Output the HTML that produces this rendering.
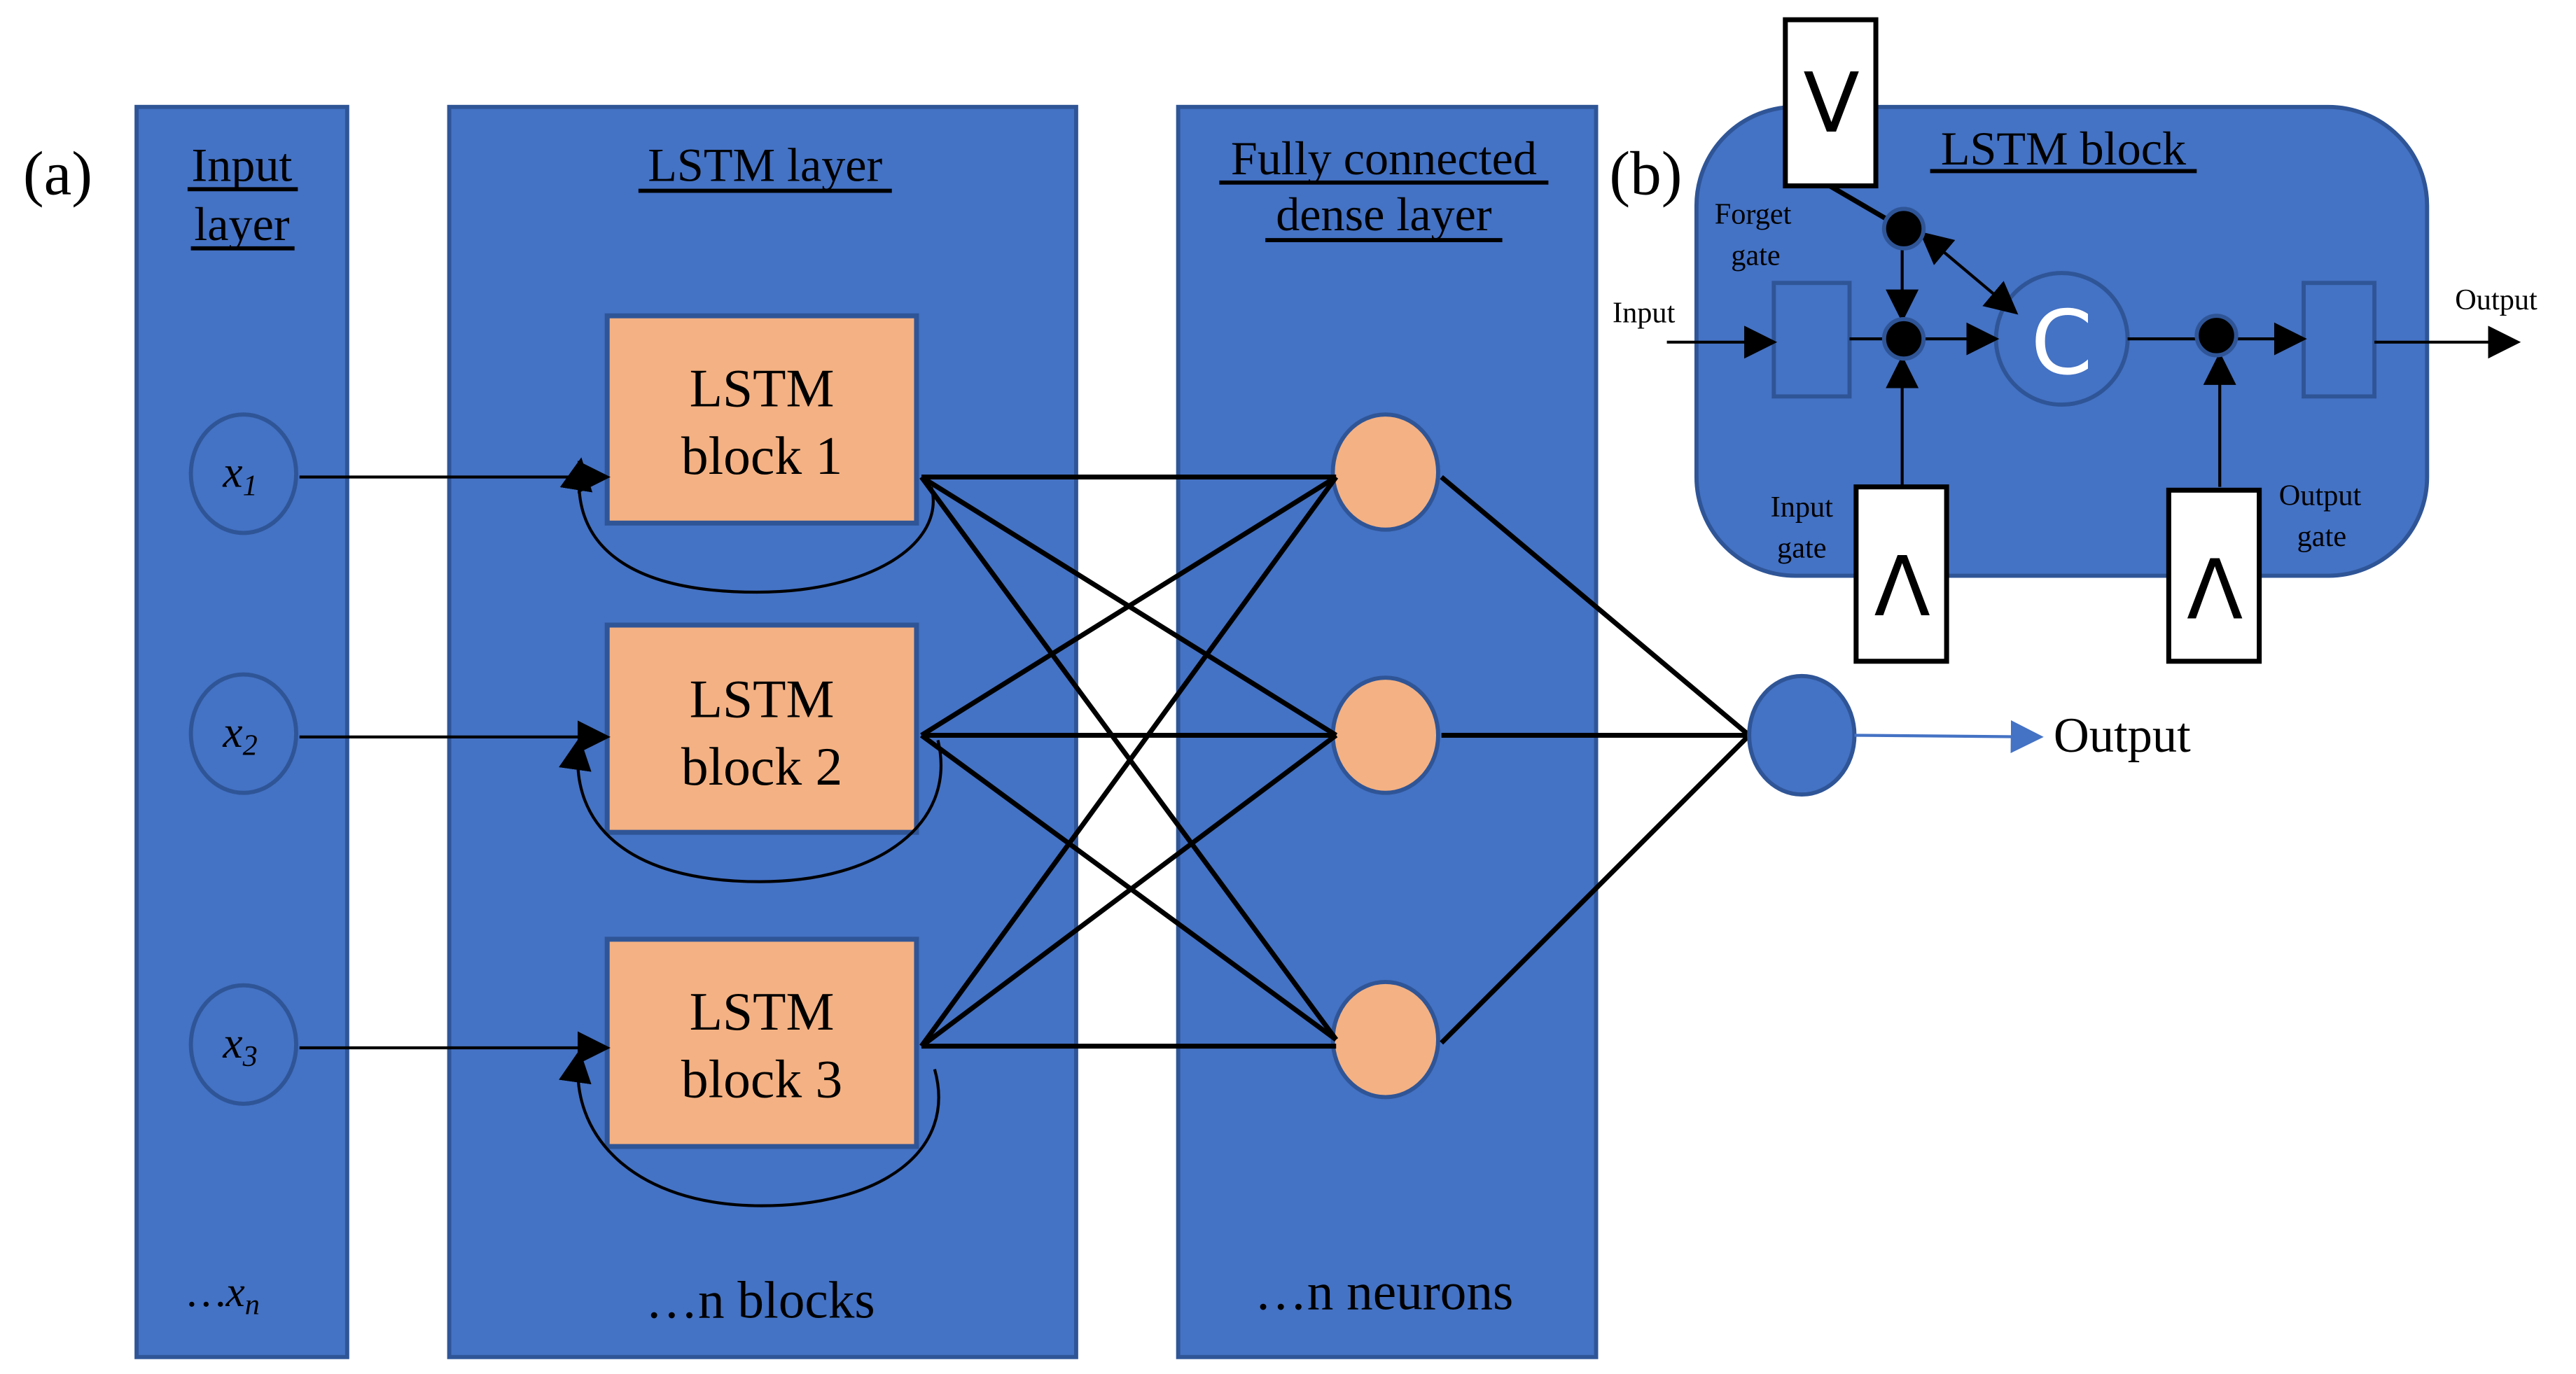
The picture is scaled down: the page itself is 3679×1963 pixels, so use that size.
<!DOCTYPE html>
<html><head><meta charset="utf-8"><style>html,body{margin:0;padding:0;background:#fff}svg{display:block}</style></head>
<body>
<svg width="3679" height="1963" viewBox="0 0 1565.5 835.3" preserveAspectRatio="none" xmlns="http://www.w3.org/2000/svg" font-family="'Liberation Serif', serif">
<defs>
<marker id="ah" viewBox="0 0 10 10" refX="9" refY="5" markerWidth="7" markerHeight="7" markerUnits="userSpaceOnUse" orient="auto"><path d="M0,0L10,5L0,10z" fill="#000"/></marker>
<marker id="ahL" viewBox="0 0 10 10" refX="9" refY="5" markerWidth="20" markerHeight="20" markerUnits="userSpaceOnUse" orient="auto"><path d="M0,0L10,5L0,10z" fill="#000"/></marker>
<marker id="ahS" viewBox="0 0 10 10" refX="9" refY="5" markerWidth="20" markerHeight="20" markerUnits="userSpaceOnUse" orient="auto-start-reverse"><path d="M0,0L10,5L0,10z" fill="#000"/></marker>
<marker id="ahB" viewBox="0 0 10 10" refX="9" refY="5" markerWidth="20" markerHeight="20" markerUnits="userSpaceOnUse" orient="auto"><path d="M0,0L10,5L0,10z" fill="#4472c4"/></marker>
</defs>
<g fill="#4472c4" stroke="#2f5597" stroke-width="2.5">
<rect x="83" y="65" width="128" height="760"/>
<rect x="273" y="65" width="381" height="760"/>
<rect x="716" y="65" width="254" height="760"/>
</g>
<text x="14" y="118" font-size="38">(a)</text>
<g font-size="29" text-anchor="middle" fill="#000">
<text x="147" y="110">Input</text><text x="147" y="146">layer</text>
<text x="465" y="110">LSTM layer</text>
<text x="841" y="106">Fully connected</text><text x="841" y="140">dense layer</text>
</g>
<g stroke="#000" stroke-width="2.5">
<line x1="114" y1="115" x2="181" y2="115"/><line x1="116" y1="151" x2="179" y2="151"/>
<line x1="388" y1="116" x2="542" y2="116"/>
<line x1="741" y1="111" x2="941" y2="111"/><line x1="769" y1="146" x2="913" y2="146"/>
</g>
<!-- input circles -->
<g fill="#4472c4" stroke="#2f5597" stroke-width="2.5">
<ellipse cx="148" cy="288" rx="32" ry="36"/>
<ellipse cx="148" cy="446" rx="32" ry="36"/>
<ellipse cx="148" cy="635" rx="32" ry="36"/>
</g>
<g font-size="27" font-style="italic" text-anchor="middle">
<text x="146" y="296">x<tspan font-size="18" dy="5">1</tspan></text>
<text x="146" y="454">x<tspan font-size="18" dy="5">2</tspan></text>
<text x="146" y="643">x<tspan font-size="18" dy="5">3</tspan></text>
<text x="136" y="794" font-size="26">…x<tspan font-size="18" dy="5">n</tspan></text>
</g>
<!-- LSTM blocks -->
<g fill="#f4b183" stroke="#2f5597" stroke-width="3">
<rect x="369" y="192" width="188" height="126"/>
<rect x="369" y="380" width="188" height="126"/>
<rect x="369" y="571" width="188" height="126"/>
</g>
<g font-size="33" text-anchor="middle">
<text x="463" y="247">LSTM</text><text x="463" y="288">block 1</text>
<text x="463" y="436">LSTM</text><text x="463" y="477">block 2</text>
<text x="463" y="626">LSTM</text><text x="463" y="667">block 3</text>
</g>
<text x="462" y="801" font-size="32" text-anchor="middle">…n blocks</text>
<text x="841" y="796" font-size="32" text-anchor="middle">…n neurons</text>
<!-- input arrows -->
<g stroke="#000" stroke-width="1.8" fill="none">
<line x1="182" y1="290" x2="369" y2="290" marker-end="url(#ahL)"/>
<line x1="182" y1="448" x2="369" y2="448" marker-end="url(#ahL)"/>
<line x1="182" y1="637" x2="369" y2="637" marker-end="url(#ahL)"/>
<path d="M566,296 C575,330 530,360 460,360 C380,360 345,330 353,280" marker-end="url(#ahL)"/>
<path d="M570,450 C582,500 535,536 462,536 C380,536 345,500 352,450" marker-end="url(#ahL)"/>
<path d="M568,650 C582,700 535,733 463,733 C385,733 345,690 352,640" marker-end="url(#ahL)"/>
</g>
<!-- dense neurons -->
<g fill="#f4b183" stroke="#2f5597" stroke-width="2.5">
<ellipse cx="842" cy="287" rx="32" ry="35"/>
<ellipse cx="842" cy="447" rx="32" ry="35"/>
<ellipse cx="842" cy="632" rx="32" ry="35"/>
</g>
<g stroke="#000" stroke-width="3">
<line x1="560" y1="290" x2="812" y2="290"/><line x1="560" y1="290" x2="812" y2="447"/><line x1="560" y1="290" x2="812" y2="632"/>
<line x1="560" y1="447" x2="812" y2="290"/><line x1="560" y1="447" x2="812" y2="447"/><line x1="560" y1="447" x2="812" y2="632"/>
<line x1="560" y1="636" x2="812" y2="290"/><line x1="560" y1="636" x2="812" y2="447"/><line x1="560" y1="636" x2="812" y2="636"/>
<line x1="876" y1="290" x2="1063" y2="447"/><line x1="876" y1="447" x2="1063" y2="447"/><line x1="876" y1="634" x2="1063" y2="447"/>
</g>
<ellipse cx="1095" cy="447" rx="32" ry="36" fill="#4472c4" stroke="#2f5597" stroke-width="2.5"/>
<line x1="1127" y1="447" x2="1240" y2="448" stroke="#4472c4" stroke-width="1.8" marker-end="url(#ahB)"/>
<text x="1248" y="457" font-size="30">Output</text>
<!-- (b) -->
<text x="978" y="118" font-size="38">(b)</text>
<rect x="1031" y="65" width="444" height="285" rx="60" fill="#4472c4" stroke="#2f5597" stroke-width="2.5"/>
<text x="1254" y="100" font-size="29" text-anchor="middle">LSTM block</text>
<line x1="1173" y1="104" x2="1335" y2="104" stroke="#000" stroke-width="2.5"/>
<g font-size="18" fill="#000">
<text x="1042" y="136">Forget</text><text x="1052" y="161">gate</text>
<text x="980" y="196">Input</text>
<text x="1076" y="314">Input</text><text x="1080" y="339">gate</text>
<text x="1385" y="307">Output</text><text x="1396" y="332">gate</text>
<text x="1492" y="188">Output</text>
</g>
<g fill="#4472c4" stroke="#2f5597" stroke-width="2.5">
<rect x="1078" y="172" width="46" height="69"/>
<rect x="1400" y="172" width="43" height="69"/>
<ellipse cx="1253" cy="206" rx="40" ry="40"/>
</g>
<text x="1253" y="227" font-size="54" fill="#fff" text-anchor="middle" font-family="'DejaVu Sans', sans-serif">C</text>
<g stroke="#000" stroke-width="1.8" fill="none">
<line x1="1013" y1="208" x2="1078" y2="208" marker-end="url(#ahL)"/>
<line x1="1124" y1="206" x2="1145" y2="206"/>
<line x1="1167" y1="206" x2="1213" y2="206" marker-end="url(#ahL)"/>
<line x1="1156" y1="150" x2="1156" y2="194" marker-end="url(#ahL)"/>
<line x1="1156" y1="296" x2="1156" y2="218" marker-end="url(#ahL)"/>
<line x1="1293" y1="206" x2="1336" y2="206"/>
<line x1="1358" y1="206" x2="1400" y2="206" marker-end="url(#ahL)"/>
<line x1="1349" y1="296" x2="1349" y2="216" marker-end="url(#ahL)"/>
<line x1="1443" y1="208" x2="1530" y2="208" marker-end="url(#ahL)"/>
<line x1="1168" y1="142" x2="1225" y2="190" marker-start="url(#ahS)" marker-end="url(#ahL)"/>
</g>
<line x1="1112" y1="113" x2="1148" y2="134" stroke="#000" stroke-width="3"/>
<g fill="#000" stroke="#2f5597" stroke-width="2.5">
<circle cx="1157" cy="139" r="12"/>
<circle cx="1157" cy="206" r="12"/>
<circle cx="1347" cy="204" r="12"/>
</g>
<g fill="#fff" stroke="#000" stroke-width="3">
<rect x="1085" y="12" width="55" height="101"/>
<rect x="1128" y="296" width="55" height="106"/>
<rect x="1318" y="298" width="55" height="104"/>
</g>
<g font-size="50" text-anchor="middle" font-family="'DejaVu Sans', sans-serif">
<text x="1113" y="80">V</text>
<text x="1156" y="374">Λ</text>
<text x="1346" y="376">Λ</text>
</g>
</svg>
</body></html>
